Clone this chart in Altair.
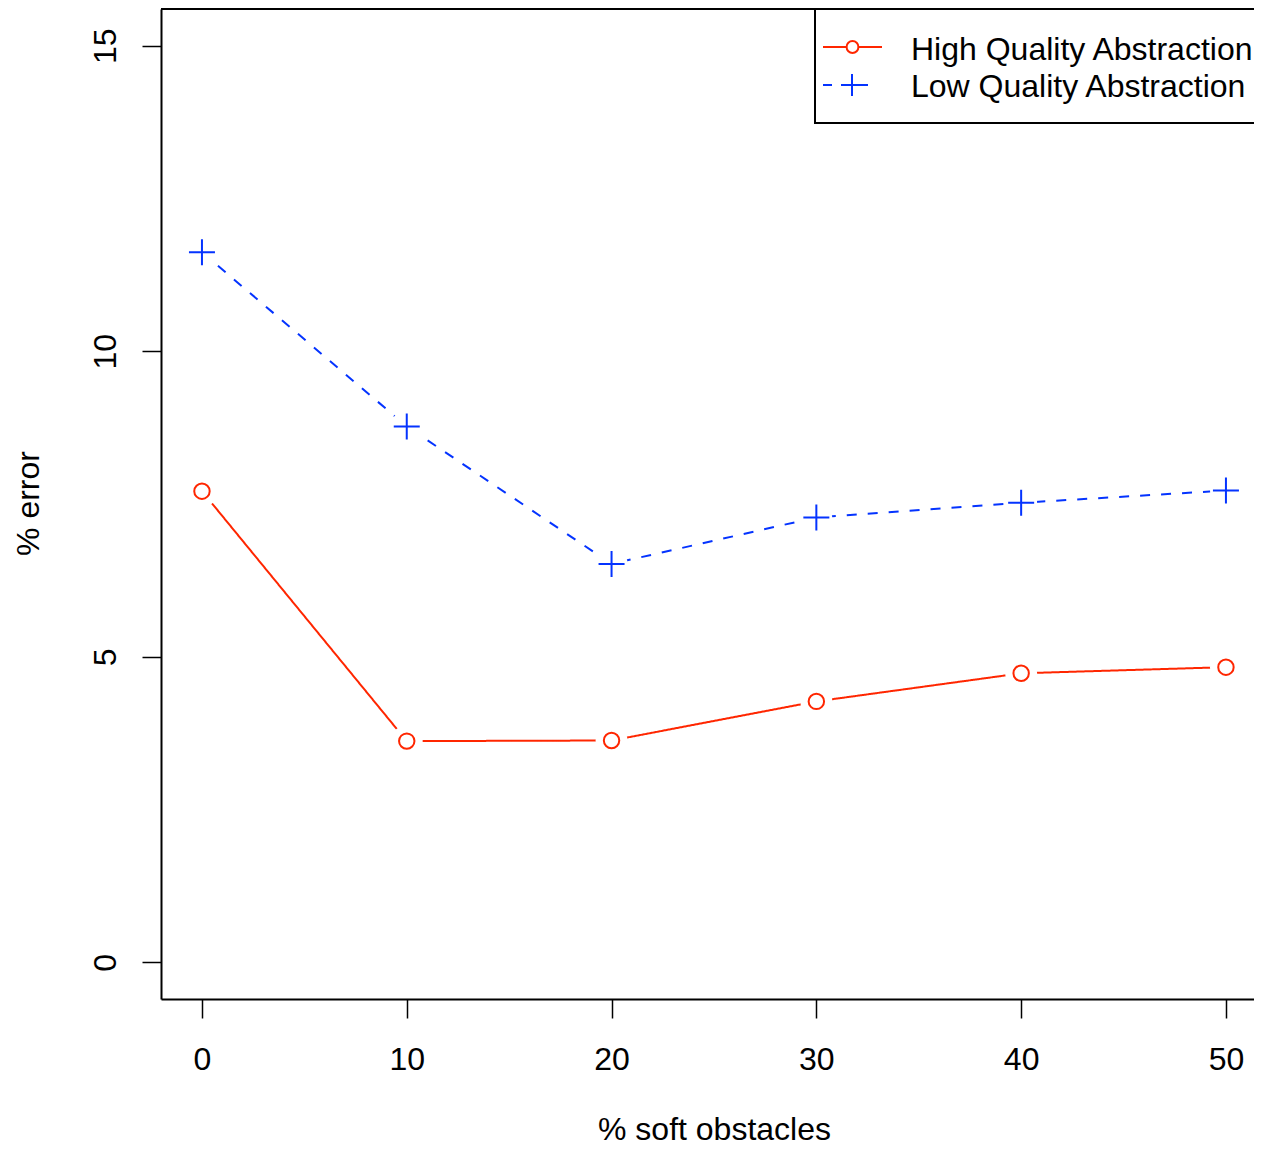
import altair as alt
import pandas as pd

# ---- data ----
soft_obstacles = [0, 10, 20, 30, 40, 50]
high_quality = [7.71, 3.62, 3.63, 4.27, 4.73, 4.83]
low_quality = [11.62, 8.77, 6.52, 7.28, 7.52, 7.72]
series_names = ["High Quality Abstraction", "Low Quality Abstraction"]
x_ticks = [0, 10, 20, 30, 40, 50]
y_ticks = [0, 5, 10, 15]

RED = "#FF2600"
BLUE = "#0433FF"
FONT = "Liberation Sans"
FS = 32

W, H = 1093, 990

rows = []
for x, v in zip(soft_obstacles, high_quality):
    rows.append({"x": x, "y": v, "series": series_names[0]})
for x, v in zip(soft_obstacles, low_quality):
    rows.append({"x": x, "y": v, "series": series_names[1]})
df = pd.DataFrame(rows)
df_high = df[df.series == series_names[0]]
df_low = df[df.series == series_names[1]]

xscale = alt.Scale(domain=[-2, 51.37], nice=False, zero=False)
yscale = alt.Scale(domain=[-0.6, 15.6], nice=False, zero=False)

xenc = alt.X(
    "x:Q", scale=xscale,
    axis=alt.Axis(
        values=x_ticks, format="d", title="% soft obstacles", grid=False,
        tickSize=19, tickColor="black", tickWidth=1.5,
        domainColor="black", domainWidth=2,
        labelFont=FONT, labelFontSize=FS, labelColor="black",
        labelBaseline="alphabetic", labelPadding=51, labelFlush=False,
        labelOverlap=False,
        titleFont=FONT, titleFontSize=FS, titleFontWeight="normal",
        titleColor="black", titleX=553, titleY=140,
        titleBaseline="alphabetic", titleAlign="center",
    ),
)
yenc = alt.Y(
    "y:Q", scale=yscale,
    axis=alt.Axis(
        values=y_ticks, format="d", title="% error", grid=False,
        tickSize=19, tickColor="black", tickWidth=1.5,
        domainColor="black", domainWidth=2,
        labelFont=FONT, labelFontSize=FS, labelColor="black",
        labelAngle=270, labelAlign="center", labelBaseline="alphabetic",
        labelPadding=27, labelFlush=False, labelOverlap=False,
        titleFont=FONT, titleFontSize=FS, titleFontWeight="normal",
        titleColor="black", titleAngle=270, titleX=-123, titleY=494,
        titleBaseline="alphabetic", titleAlign="center",
    ),
)

color = alt.Color("series:N", scale=alt.Scale(domain=series_names, range=[RED, BLUE]), legend=None)
dash = alt.StrokeDash("series:N", scale=alt.Scale(domain=series_names, range=[[1, 0], [10, 11]]), legend=None)

lines = alt.Chart(df).mark_line(strokeWidth=2).encode(x=xenc, y=yenc, color=color, strokeDash=dash)

halos = alt.Chart(df).mark_point(shape="circle", filled=True, size=1018, color="white", opacity=1, strokeWidth=0).encode(x="x:Q", y="y:Q")

circles = alt.Chart(df_high).mark_point(shape="circle", filled=False, size=238, color=RED, opacity=1, strokeWidth=2).encode(x="x:Q", y="y:Q")

crosses = alt.Chart(df_low).mark_point(shape="M-1,0L1,0M0,-1L0,1", filled=False, size=676, color=BLUE, opacity=1, strokeWidth=2).encode(x="x:Q", y="y:Q")

one = pd.DataFrame({"k": [0]})
base = alt.Chart(one)

top_border = base.mark_rule(strokeWidth=2, color="black").encode(x=alt.value(0), x2=alt.value(W + 5), y=alt.value(0))

legend_box = base.mark_rect(fill="white", stroke="black", strokeWidth=2).encode(
    x=alt.value(654), x2=alt.value(W + 40), y=alt.value(0), y2=alt.value(114))

leg_line_high = base.mark_rule(strokeWidth=2, color=RED).encode(x=alt.value(662), x2=alt.value(721), y=alt.value(38))
leg_pt_high = base.mark_point(shape="circle", filled=True, fill="white", stroke=RED, size=140, opacity=1, strokeWidth=2).encode(x=alt.value(691.5), y=alt.value(38))
leg_line_low = base.mark_rule(strokeWidth=2, color=BLUE, strokeDash=[9, 9]).encode(x=alt.value(662), x2=alt.value(715), y=alt.value(76))
leg_pt_low = base.mark_point(shape="M-1,0L1,0M0,-1L0,1", filled=False, size=484, color=BLUE, opacity=1, strokeWidth=2).encode(x=alt.value(691), y=alt.value(76))
leg_txt_high = base.mark_text(align="left", baseline="alphabetic", font=FONT, fontSize=FS, color="black").encode(
    x=alt.value(750), y=alt.value(51), text=alt.value(series_names[0]))
leg_txt_low = base.mark_text(align="left", baseline="alphabetic", font=FONT, fontSize=FS, color="black").encode(
    x=alt.value(750), y=alt.value(88), text=alt.value(series_names[1]))

chart = alt.layer(
    lines, halos, circles, crosses, top_border, legend_box,
    leg_line_high, leg_pt_high, leg_line_low, leg_pt_low, leg_txt_high, leg_txt_low,
).properties(
    width=W, height=H,
    autosize=alt.AutoSizeParams(type="none"),
    padding={"left": 153, "top": 1, "right": 0, "bottom": 147},
    background="white",
).configure_view(stroke=None)

chart.save("out.html", embed_options={"renderer": "svg", "actions": False})
